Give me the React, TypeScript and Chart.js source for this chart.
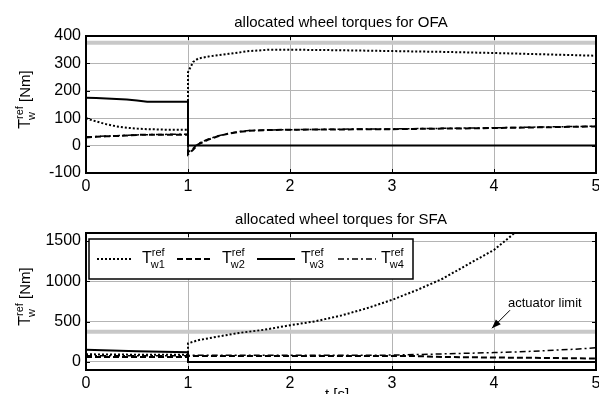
import React, { useEffect, useRef } from "react";
import { Chart, registerables } from "chart.js";

Chart.register(...registerables);

const FONT = "'Liberation Sans', Arial, Helvetica, sans-serif";

// ---- data ----
const xTicks = [0, 1, 2, 3, 4, 5];
const ofaYTicks = [-100, 0, 100, 200, 300, 400];
const sfaYTicks = [0, 500, 1000, 1500];
const actuatorLimit = 375;

const ofaTime = [0, 0.1, 0.2, 0.3, 0.4, 0.5, 0.6, 0.8, 1.0, 1.0, 1.05, 1.1, 1.2, 1.3, 1.4, 1.5, 1.6, 1.8, 2.0, 2.5, 3.0, 3.5, 4.0, 4.5, 5.0];
const ofaW1 = [100, 88, 78, 70, 65, 62, 60, 58, 58, 268, 305, 318, 325, 330, 335, 340, 345, 350, 350, 348, 345, 342, 338, 333, 328];
const ofaW2 = [30, 32, 34, 35, 37, 39, 40, 40, 40, -32, -15, 5, 22, 35, 44, 50, 54, 57, 58, 59, 60, 62, 64, 67, 70];
const ofaW3 = [175, 174, 172, 170, 168, 165, 160, 160, 160, 0, 0, 0, 0, 0, 0, 0, 0, 0, 0, 0, 0, 0, 0, 0, 0];
const ofaW4 = [32, 33, 35, 36, 38, 39, 40, 41, 41, -25, -10, 8, 24, 36, 45, 51, 55, 57, 58, 60, 61, 63, 65, 68, 71];

const sfaTime = [0, 0.25, 0.5, 0.75, 1.0, 1.0, 1.1, 1.25, 1.5, 1.75, 2.0, 2.25, 2.5, 2.75, 3.0, 3.25, 3.5, 3.75, 4.0, 4.25, 4.5, 4.75, 5.0];
const sfaW1 = [95, 92, 90, 88, 88, 230, 270, 305, 360, 400, 455, 505, 575, 665, 770, 895, 1035, 1215, 1390, 1650, 1950, 2300, 2700];
const sfaW2 = [62, 62, 62, 62, 62, 75, 75, 75, 75, 75, 75, 75, 75, 75, 75, 72, 62, 58, 55, 52, 50, 46, 42];
const sfaW3 = [150, 142, 132, 125, 120, 0, 0, 0, 0, 0, 0, 0, 0, 0, 0, 0, 0, 0, 0, 0, 0, 0, 0];
const sfaW4 = [78, 78, 78, 78, 78, 82, 82, 82, 82, 82, 82, 82, 82, 83, 85, 92, 100, 108, 116, 125, 140, 155, 175];

const legendIndices = ["1", "2", "3", "4"];

// ---- styles ----
const seriesStyles = [
  { borderDash: [2, 2], borderWidth: 2 },
  { borderDash: [6, 3], borderWidth: 2 },
  { borderDash: [], borderWidth: 2 },
  { borderDash: [6, 3, 2, 3], borderWidth: 1.5 },
];

function drawTRef(ctx: CanvasRenderingContext2D, x: number, baseline: number, sub: string, big = 16, small = 11) {
  ctx.save();
  ctx.fillStyle = "#000";
  ctx.textBaseline = "alphabetic";
  ctx.textAlign = "left";
  ctx.font = `${big}px ${FONT}`;
  ctx.fillText("T", x, baseline);
  const tw = ctx.measureText("T").width;
  ctx.font = `${small}px ${FONT}`;
  ctx.fillText("ref", x + tw, baseline - 7);
  ctx.fillText(sub, x + tw - 1, baseline + 5);
  ctx.restore();
}

function makeChart(
  canvas: HTMLCanvasElement,
  opts: {
    time: number[];
    series: number[][];
    yMin: number;
    yMax: number;
    yTicks: number[];
    title: string;
    legend: boolean;
    xTitle: boolean;
    annotation: boolean;
  }
) {
  const datasets: any[] = opts.series.map((vals, i) => ({
    label: "T_w" + legendIndices[i],
    data: opts.time.map((t, k) => ({ x: t, y: vals[k] })),
    borderColor: "#000",
    borderDash: seriesStyles[i].borderDash,
    borderWidth: seriesStyles[i].borderWidth,
    pointRadius: 0,
    tension: 0,
    fill: false,
    order: i,
  }));
  datasets.push({
    label: "limit",
    data: [
      { x: xTicks[0], y: actuatorLimit },
      { x: xTicks[xTicks.length - 1], y: actuatorLimit },
    ],
    borderColor: "#c8c8c8",
    borderWidth: 4,
    pointRadius: 0,
    order: 10,
  });

  const overlay = {
    id: "overlay",
    afterDatasetsDraw(chart: any) {
      const ctx: CanvasRenderingContext2D = chart.ctx;
      const a = chart.chartArea;
      const xs = chart.scales.x;
      const ys = chart.scales.y;
      ctx.save();
      ctx.strokeStyle = "#000";
      ctx.lineWidth = 1;
      const tl = 4;
      ctx.beginPath();
      xTicks.forEach((v) => {
        const px = Math.round(xs.getPixelForValue(v)) + 0.5;
        ctx.moveTo(px, a.bottom);
        ctx.lineTo(px, a.bottom - tl);
        ctx.moveTo(px, a.top);
        ctx.lineTo(px, a.top + tl);
      });
      opts.yTicks.forEach((v) => {
        const py = Math.round(ys.getPixelForValue(v)) + 0.5;
        ctx.moveTo(a.left, py);
        ctx.lineTo(a.left + tl, py);
        ctx.moveTo(a.right, py);
        ctx.lineTo(a.right - tl, py);
      });
      ctx.stroke();
      ctx.lineWidth = 2;
      ctx.strokeRect(a.left, a.top, a.right - a.left, a.bottom - a.top);
      ctx.restore();
    },
    afterDraw(chart: any) {
      const ctx: CanvasRenderingContext2D = chart.ctx;
      const a = chart.chartArea;
      const xs = chart.scales.x;
      const ys = chart.scales.y;
      ctx.save();
      // title
      ctx.fillStyle = "#000";
      ctx.font = `15px ${FONT}`;
      ctx.textAlign = "center";
      ctx.textBaseline = "alphabetic";
      ctx.fillText(opts.title, (a.left + a.right) / 2, 27);

      // y label (rotated)
      ctx.save();
      const yc = (a.top + a.bottom) / 2 - 5;
      ctx.translate(30, yc);
      ctx.rotate(-Math.PI / 2);
      ctx.font = `16px ${FONT}`;
      const tW = ctx.measureText("T").width;
      ctx.font = `11px ${FONT}`;
      const supW = ctx.measureText("ref").width;
      ctx.font = `15px ${FONT}`;
      const restW = ctx.measureText(" [Nm]").width;
      const total = tW + supW + restW;
      const x0 = -total / 2;
      ctx.textAlign = "left";
      ctx.font = `16px ${FONT}`;
      ctx.fillText("T", x0, 0);
      ctx.font = `11px ${FONT}`;
      ctx.fillText("ref", x0 + tW, -7);
      ctx.fillText("w", x0 + tW - 1, 5);
      ctx.font = `15px ${FONT}`;
      ctx.fillText(" [Nm]", x0 + tW + supW, 0);
      ctx.restore();

      // x title
      if (opts.xTitle) {
        ctx.font = `15px ${FONT}`;
        ctx.textAlign = "center";
        ctx.textBaseline = "top";
        ctx.fillText("t [s]", (a.left + a.right) / 2 - 4, a.bottom + 17);
      }

      // legend
      if (opts.legend) {
        const bx = a.left + 3;
        const by = a.top + 6;
        const bw = 324;
        const bh = 40;
        ctx.fillStyle = "#fff";
        ctx.fillRect(bx, by, bw, bh);
        ctx.strokeStyle = "#000";
        ctx.lineWidth = 1.5;
        ctx.strokeRect(bx, by, bw, bh);
        const sampleStarts = [97, 177, 257, 338];
        const sampleEnds = [133, 213, 295, 376];
        const tStarts = [142, 222, 301, 381];
        const ly = by + 20;
        legendIndices.forEach((idx, i) => {
          ctx.save();
          ctx.strokeStyle = "#000";
          ctx.lineWidth = seriesStyles[i].borderWidth;
          ctx.setLineDash(seriesStyles[i].borderDash);
          ctx.beginPath();
          ctx.moveTo(sampleStarts[i], ly);
          ctx.lineTo(sampleEnds[i], ly);
          ctx.stroke();
          ctx.restore();
          drawTRef(ctx, tStarts[i], by + 24, "w" + idx);
        });
      }

      // annotation
      if (opts.annotation) {
        const tipX = xs.getPixelForValue(3.98);
        const tipY = ys.getPixelForValue(418);
        const tailX = xs.getPixelForValue(4.157);
        const tailY = ys.getPixelForValue(642);
        ctx.strokeStyle = "#000";
        ctx.lineWidth = 1;
        ctx.setLineDash([]);
        ctx.beginPath();
        ctx.moveTo(tailX, tailY);
        ctx.lineTo(tipX, tipY);
        ctx.stroke();
        const ang = Math.atan2(tipY - tailY, tipX - tailX);
        const hl = 9;
        const hw = 3.5;
        ctx.fillStyle = "#000";
        ctx.beginPath();
        ctx.moveTo(tipX, tipY);
        ctx.lineTo(tipX - hl * Math.cos(ang) + hw * Math.sin(ang), tipY - hl * Math.sin(ang) - hw * Math.cos(ang));
        ctx.lineTo(tipX - hl * Math.cos(ang) - hw * Math.sin(ang), tipY - hl * Math.sin(ang) + hw * Math.cos(ang));
        ctx.closePath();
        ctx.fill();
        ctx.font = `13px ${FONT}`;
        ctx.textAlign = "left";
        ctx.textBaseline = "middle";
        ctx.fillText("actuator limit", xs.getPixelForValue(4.137), ys.getPixelForValue(729));
      }
      ctx.restore();
    },
  };

  return new Chart(canvas, {
    type: "line",
    data: { datasets },
    options: {
      responsive: false,
      animation: false,
      devicePixelRatio: 1,
      layout: { autoPadding: false, padding: { left: 0, right: 3, top: 36, bottom: 0 } },
      plugins: { legend: { display: false }, title: { display: false }, tooltip: { enabled: false } },
      scales: {
        x: {
          type: "linear",
          min: xTicks[0],
          max: xTicks[xTicks.length - 1],
          afterBuildTicks: (s: any) => {
            s.ticks = xTicks.map((v) => ({ value: v }));
          },
          afterFit: (s: any) => {
            s.height = 24;
            s.paddingLeft = 0;
            s.paddingRight = 0;
          },
          ticks: {
            color: "#000",
            font: { family: FONT, size: 16 },
            padding: 4,
            maxRotation: 0,
            autoSkip: false,
            callback: (v: any) => String(v),
          },
          grid: { color: "#b4b4b4", lineWidth: 1, drawTicks: false },
          border: { display: false },
        },
        y: {
          type: "linear",
          min: opts.yMin,
          max: opts.yMax,
          afterBuildTicks: (s: any) => {
            s.ticks = opts.yTicks.map((v) => ({ value: v }));
          },
          afterFit: (s: any) => {
            s.width = 86;
            s.paddingTop = 0;
            s.paddingBottom = 0;
          },
          ticks: {
            color: "#000",
            font: { family: FONT, size: 16 },
            padding: 5,
            autoSkip: false,
            callback: (v: any) => String(v),
          },
          grid: { color: "#b4b4b4", lineWidth: 1, drawTicks: false },
          border: { display: false },
        },
      },
    },
    plugins: [overlay],
  } as any);
}

export default function App() {
  const topRef = useRef<HTMLCanvasElement>(null);
  const botRef = useRef<HTMLCanvasElement>(null);

  useEffect(() => {
    const c1 = makeChart(topRef.current!, {
      time: ofaTime,
      series: [ofaW1, ofaW2, ofaW3, ofaW4],
      yMin: -100,
      yMax: 400,
      yTicks: ofaYTicks,
      title: "allocated wheel torques for OFA",
      legend: false,
      xTitle: false,
      annotation: false,
    });
    const c2 = makeChart(botRef.current!, {
      time: sfaTime,
      series: [sfaW1, sfaW2, sfaW3, sfaW4],
      yMin: -100,
      yMax: 1600,
      yTicks: sfaYTicks,
      title: "allocated wheel torques for SFA",
      legend: true,
      xTitle: true,
      annotation: true,
    });
    return () => {
      c1.destroy();
      c2.destroy();
    };
  }, []);

  return (
    <div style={{ position: "absolute", left: 0, top: 0, width: 599, height: 394, background: "#fff", overflow: "hidden" }}>
      <canvas ref={topRef} width={599} height={197} style={{ display: "block", width: 599, height: 197 }} />
      <canvas ref={botRef} width={599} height={197} style={{ display: "block", width: 599, height: 197 }} />
    </div>
  );
}
